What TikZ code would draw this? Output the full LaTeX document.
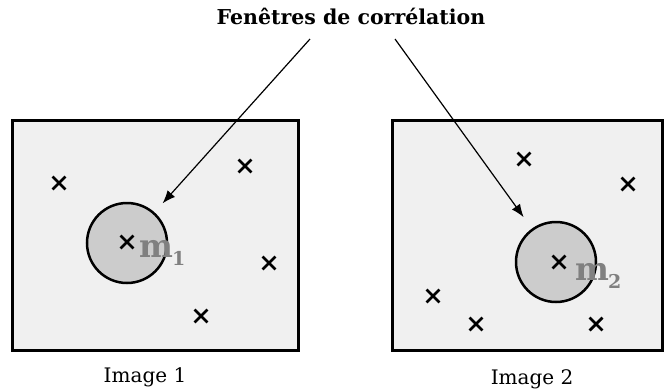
\documentclass[tikz,border=0pt]{standalone}
\usepackage{fontspec}
\setmainfont{DejaVu Serif}
\usetikzlibrary{arrows.meta,shapes.misc}
\definecolor{boxgray}{gray}{0.94}
\definecolor{wingray}{gray}{0.8}
\definecolor{labelgray}{gray}{0.5}
\begin{document}
\begin{tikzpicture}[x=1bp, y=-1bp,
    imgbox/.style={draw, line width=3bp, fill=boxgray, inner sep=0pt},
    window/.style={circle, draw, line width=2.5bp, fill=wingray, minimum size=80bp, inner sep=0pt},
    pt/.style={cross out, draw, line width=2.8bp, minimum size=10bp, inner sep=0pt},
    caption/.style={font=\fontsize{20bp}{24bp}\selectfont, anchor=base, inner sep=0pt},
    winlabel/.style={anchor=base west, inner sep=0pt, text=labelgray, font=\bfseries}]
\useasboundingbox (0,0) rectangle (664,391);

\node[imgbox, minimum width=285bp, minimum height=230bp] (img1) at (155.5,235) {};
\node[imgbox, minimum width=270bp, minimum height=230bp] (img2) at (527,235) {};

\node[window] (win1) at (127,243) {};
\node[window] (win2) at (556,262) {};

\foreach \px/\py [count=\i] in {59/183, 245/166, 127/242, 269/263, 201/316}
  \node[pt] (a\i) at (\px,\py) {};
\foreach \px/\py [count=\i] in {524/159, 628/184, 559/262, 433/296, 476/324, 596/324}
  \node[pt] (b\i) at (\px,\py) {};

\node[winlabel] (m1) at (139,257) {\fontsize{32bp}{32bp}\selectfont m\kern-1bp\raisebox{-8bp}{\fontsize{19bp}{19bp}\selectfont 1}};
\node[winlabel] (m2) at (575,280) {\fontsize{32bp}{32bp}\selectfont m\kern-1bp\raisebox{-8bp}{\fontsize{19bp}{19bp}\selectfont 2}};

\node[caption, font=\fontsize{20.5bp}{24bp}\selectfont\bfseries] (title) at (351,24) {Fenêtres de corrélation};
\coordinate (t1) at (310,39);
\coordinate (t2) at (395,39);
\draw[-{Latex[length=13bp,width=10bp]}, line width=1.2bp, shorten >=12bp] (t1) -- (win1);
\draw[-{Latex[length=13bp,width=10bp]}, line width=1.2bp, shorten >=14bp] (t2) -- (win2);

\node[caption] (cap1) at (145,382) {Image 1};
\node[caption] (cap2) at (532,384) {Image 2};
\end{tikzpicture}
\end{document}
